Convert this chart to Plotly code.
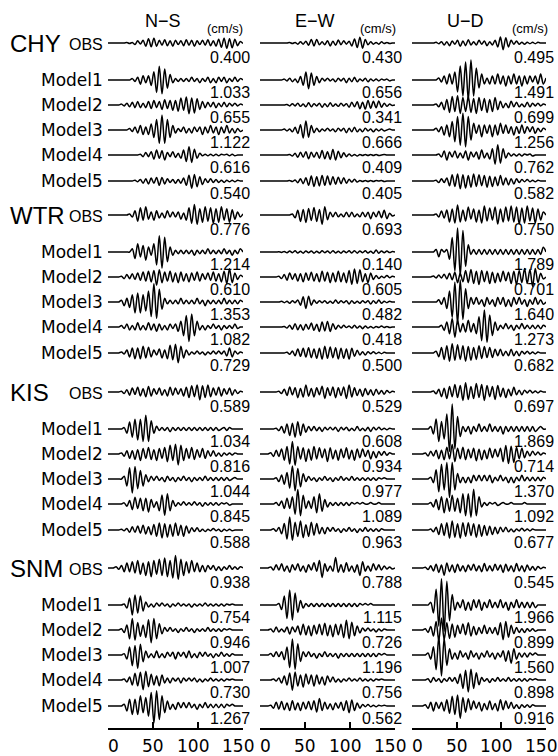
import plotly.graph_objects as go

# ---------------- data ----------------
STATIONS = ["CHY", "WTR", "KIS", "SNM"]
COMPONENTS = ["N\u2212S", "E\u2212W", "U\u2212D"]
ROWS = ["OBS", "Model1", "Model2", "Model3", "Model4", "Model5"]
TIME_STEP = 3.0          # seconds between samples
TIME_TICKS = [0, 50, 100, 150]
UNIT = "(cm/s)"

# peak velocity (cm/s) per trace: rows OBS, Model1..Model5
PEAK_CHY_NS = [0.400, 1.033, 0.655, 1.122, 0.616, 0.540]
PEAK_CHY_EW = [0.430, 0.656, 0.341, 0.666, 0.409, 0.405]
PEAK_CHY_UD = [0.495, 1.491, 0.699, 1.256, 0.762, 0.582]
PEAK_WTR_NS = [0.776, 1.214, 0.610, 1.353, 1.082, 0.729]
PEAK_WTR_EW = [0.693, 0.140, 0.605, 0.482, 0.418, 0.500]
PEAK_WTR_UD = [0.750, 1.789, 0.701, 1.640, 1.273, 0.682]
PEAK_KIS_NS = [0.589, 1.034, 0.816, 1.044, 0.845, 0.588]
PEAK_KIS_EW = [0.529, 0.608, 0.934, 0.977, 1.089, 0.963]
PEAK_KIS_UD = [0.697, 1.869, 0.714, 1.370, 1.092, 0.677]
PEAK_SNM_NS = [0.938, 0.754, 0.946, 1.007, 0.730, 1.267]
PEAK_SNM_EW = [0.788, 1.115, 0.726, 1.196, 0.756, 0.562]
PEAK_SNM_UD = [0.545, 1.966, 0.899, 1.560, 0.898, 0.916]

# waveform samples (every 3 s from 0 to 150 s),
# in tenths of each trace's peak value
WAVE_CHY_NS = [
    [0,0,0,0,0,0,0,1,-1,1, -3,4,-2,5,-6,8,-7,9,-6,5, -4,6,-5,4,-6,5,-3,4,-5,6, -4,5,-6,4,-3,5,-4,6,-5,4, -6,7,-8,9,-10,8,-9,7,-5,3,-1],
    [0,0,0,0,0,0,0,0,0,1, -1,2,-3,3,-2,3,-4,6,-9,10, -10,8,-6,4,-2,1,-1,1,-1,1, -1,2,-1,1,-2,1,-1,2,-2,1, -2,2,-1,2,-2,1,-1,2,-1,1,0],
    [0,0,0,0,0,1,-1,2,-2,3, -3,4,-3,2,-3,4,-4,5,-3,4, -5,6,-4,5,-6,5,-7,8,-6,9, -10,8,-9,7,-5,4,-3,3,-2,3, -3,2,-2,3,-2,2,-1,2,-1,1,0],
    [0,0,0,0,0,0,0,0,1,-1, 2,-2,3,-3,2,-3,4,-5,7,-9, 10,-9,7,-5,3,-2,1,-1,2,-2, 1,-2,2,-1,2,-3,2,-2,3,-2, 2,-3,2,-2,3,-2,1,-2,1,-1,0],
    [0,0,0,0,0,0,0,0,0,0, 0,0,1,-2,3,-2,4,-5,6,-4, 5,-6,3,-2,4,-3,2,-4,6,-8, 10,-9,7,-4,2,-1,1,-1,1,-1, 1,-1,1,0,1,-1,1,-1,0,0,0],
    [0,0,0,0,0,0,0,0,0,0, 1,-1,2,-3,3,-4,4,-3,5,-6, 5,-4,3,-2,2,-3,2,-3,4,-6, 8,-10,9,-8,6,-5,3,-2,3,-2, 2,-2,1,-2,1,-1,1,-1,1,0,0],
]
WAVE_CHY_EW = [
    [0,0,0,0,0,0,0,0,0,0, 0,1,-1,1,-2,2,-2,3,-4,6, -5,6,-3,2,-3,4,-5,3,-4,5, -3,4,-2,3,-5,7,-8,10,-9,6, -3,2,-2,1,-2,2,-1,1,-1,0,0],
    [0,0,0,0,0,0,0,0,0,1, -1,2,-2,1,-3,4,-6,9,-10,8, -6,4,-3,2,-1,2,-1,1,-2,2, -1,2,-3,2,-2,3,-2,1,-1,2, -2,1,-1,1,-1,1,0,1,-1,0,0],
    [0,0,0,0,0,0,0,0,0,0, 1,-2,3,-2,4,-3,2,-4,5,-4, 3,-2,4,-5,3,-4,5,-3,2,-3, 4,-2,3,-5,6,-4,7,-8,6,-9, 10,-7,8,-6,9,-5,4,-3,2,-1,0],
    [0,0,0,0,0,0,0,0,0,1, -1,1,-2,3,-4,6,-9,10,-8,5, -3,2,-2,1,-1,2,-1,1,-2,2, -1,2,-3,2,-2,3,-2,1,-2,2, -1,1,-2,1,-1,1,-1,0,1,0,0],
    [0,0,0,0,0,0,0,0,0,0, 0,1,-2,3,-4,5,-4,6,-7,5, -4,5,-6,8,-7,6,-8,10,-9,7, -5,4,-3,2,-2,1,-2,1,-1,1, -1,1,-1,1,-1,0,1,0,0,0,0],
    [0,0,0,0,0,0,0,0,0,0, 0,1,-1,2,-3,4,-5,6,-8,9, -10,8,-9,10,-8,9,-7,8,-6,7, -5,6,-4,3,-2,3,-2,1,-1,1, -1,1,-1,1,0,1,-1,0,0,0,0],
]
WAVE_CHY_UD = [
    [0,0,0,0,0,0,0,0,0,1, -1,2,-3,2,-4,3,-2,4,-5,3, -4,5,-3,2,-3,4,-2,3,-4,2, -3,4,-6,9,-10,8,-6,4,-2,3, -2,1,-2,1,-1,1,-1,1,0,0,0],
    [0,0,0,0,0,0,0,0,0,0, 1,-1,2,-2,3,-2,4,-6,7,-8, 9,-10,10,-8,6,-4,3,-2,1,-2, 2,-2,3,-2,2,-3,2,-2,3,-2, 2,-3,2,-2,2,-1,2,-2,3,-2,1],
    [0,0,0,0,0,0,0,0,0,1, -2,3,-5,6,-8,9,-7,10,-9,8, -7,9,-8,7,-9,8,-6,7,-8,6, -7,8,-5,4,-3,2,-3,4,-2,3, -2,1,-2,3,-2,2,-1,2,-1,1,0],
    [0,0,0,0,0,0,0,0,0,1, -1,2,-3,3,-4,5,-7,8,-9,10, -10,8,-6,4,-2,3,-4,3,-2,3, -4,3,-3,4,-2,3,-2,2,-3,2, -2,3,-2,2,-1,2,-2,1,-1,1,0],
    [0,0,0,0,0,0,0,0,0,0, 1,-2,4,-5,3,-2,4,-3,2,-3, 4,-5,3,-2,3,-4,5,-3,2,-4, 6,-9,10,-8,6,-3,2,-1,1,-1, 1,-1,1,0,1,-1,0,0,0,0,0],
    [0,0,0,0,0,0,0,0,0,1, -2,3,-2,4,-6,8,-7,9,-10,8, -9,7,-8,9,-7,8,-6,7,-8,6, -7,5,-6,7,-5,4,-5,3,-4,3, -2,2,-1,2,-1,1,-1,1,0,0,0],
]
WAVE_WTR_NS = [
    [0,0,0,0,0,0,0,0,1,-2, 4,-6,7,-5,8,-4,3,-5,4,-3, 2,-3,4,-2,3,-2,3,-4,2,-5, 7,-8,10,-9,6,-7,8,-6,7,-8, 6,-7,8,-5,6,-7,5,-4,3,-2,1],
    [0,0,0,0,0,0,0,0,0,2, -4,5,-3,4,-5,3,-2,5,-8,10, -10,9,-6,3,-2,1,-1,1,-1,1, -1,1,-2,1,-1,1,-1,2,-1,1, -1,1,-1,2,-1,1,-2,1,-1,2,0],
    [0,0,0,0,0,1,-2,3,-2,4, -3,5,-4,6,-5,7,-6,8,-10,9, -7,6,-5,7,-6,5,-7,6,-5,4, -6,5,-4,6,-5,4,-3,5,-4,6, -5,4,-6,7,-8,10,-7,5,-3,2,0],
    [0,0,0,0,0,1,-2,2,-3,4, -6,5,-6,4,-5,6,-8,10,-9,7, -4,2,-1,1,-1,1,-1,2,-1,1, -1,1,-1,2,-1,1,-2,1,-1,1, -1,1,-1,2,-1,1,-1,1,-1,1,0],
    [0,0,0,0,0,1,-1,2,-2,1, -2,3,-2,1,-2,3,-2,2,-3,2, -2,1,-2,2,-1,2,-3,4,-6,8, -10,9,-6,4,-2,1,-2,1,-1,2, -1,1,-2,1,-1,1,-1,2,-1,0,0],
    [0,0,0,0,0,1,-1,3,-4,5, -6,5,-6,7,-5,6,-4,3,-2,4, -5,3,-6,8,-7,9,-10,7,-5,3, -2,1,-1,2,-1,1,-2,1,-1,2, -1,2,-1,2,-3,5,-4,2,-1,1,0],
]
WAVE_WTR_EW = [
    [0,0,0,0,0,0,0,0,0,0, 0,0,1,-3,5,-7,6,-8,7,-6, 8,-7,6,-10,9,-5,3,-2,3,-2, 1,-2,3,-2,3,-2,1,-2,3,-2, 3,-4,3,-2,4,-3,5,-4,2,-1,0],
    [0,0,0,0,0,0,0,1,-2,3, -4,5,-4,6,-5,4,-6,5,-4,5, -6,4,-5,6,-4,5,-6,7,-5,4, -6,5,-4,6,-5,7,-6,5,-4,6, -5,4,-7,10,-6,5,-4,5,-3,2,0],
    [0,0,0,0,0,0,0,1,-2,3, -4,5,-3,4,-5,4,-6,5,-4,6, -5,4,-6,7,-5,6,-7,5,-6,7, -6,5,-7,8,-9,10,-8,9,-6,4, -7,5,-3,2,-2,1,-1,2,-1,1,0],
    [0,0,0,0,0,0,0,0,1,-1, 1,-2,2,-1,3,-5,8,-10,9,-5, 3,-2,2,-1,2,-2,1,-2,3,-2, 2,-1,2,-3,2,-2,1,-2,2,-1, 2,-3,2,-2,3,-2,1,-1,1,0,0],
    [0,0,0,0,0,0,0,0,0,1, -2,3,-4,6,-5,4,-6,5,-4,7, -6,5,-8,9,-7,10,-8,6,-4,3, -2,3,-1,2,-2,3,-2,2,-3,2, -2,1,-2,1,-1,2,-1,1,-1,0,0],
    [0,0,0,0,0,0,0,0,0,0, 1,-2,3,-4,6,-5,7,-6,8,-7, 6,-8,7,-9,10,-8,9,-7,8,-9, 7,-8,6,-9,7,-5,4,-3,2,-3, 2,-1,2,-1,1,-1,1,0,0,0,0],
]
WAVE_WTR_UD = [
    [0,0,0,0,0,0,0,0,0,1, -2,4,-3,5,-7,6,-8,10,-7,5, -6,8,-4,6,-7,5,-8,9,-6,7, -5,8,-9,6,-7,8,-6,9,-7,8, -9,7,-8,9,-6,7,-8,6,-5,3,0],
    [0,0,0,0,0,0,0,0,0,1, -2,1,0,1,-3,6,-8,10,-10,9, -6,3,-1,1,-1,1,-1,1,-1,1, -1,1,-1,1,-1,1,-1,1,-1,1, -1,1,-1,1,-1,1,-1,1,-1,2,0],
    [0,0,0,0,0,0,0,0,1,-1, 2,-1,3,-2,4,-3,5,-6,4,-5, 7,-6,8,-7,6,-8,7,-5,6,-7, 5,-6,4,-5,6,-4,5,-7,6,-8, 7,-6,9,-7,8,-10,9,-6,4,-2,0],
    [0,0,0,0,0,0,0,0,0,0, 1,-1,2,-3,5,-7,9,-10,10,-8, 6,-3,2,-1,2,-1,1,-2,2,-1, 1,-2,2,-1,2,-2,1,-2,2,-1, 2,-1,1,-2,1,-1,2,-1,1,-1,0],
    [0,0,0,0,0,0,0,0,0,0, 0,1,-2,3,-4,5,-6,4,-3,2, -3,4,-3,2,-4,6,-8,10,-9,7, -5,3,-2,1,-1,2,-1,1,-2,1, -1,2,-1,1,-1,1,-1,1,-1,1,0],
    [0,0,0,0,0,0,0,0,0,2, -4,6,-7,8,-9,10,-8,9,-7,8, -9,7,-8,6,-7,8,-6,7,-5,6, -5,4,-3,4,-3,2,-3,4,-3,2, -3,2,-1,2,-1,1,-1,1,0,0,0],
]
WAVE_KIS_NS = [
    [0,0,0,0,0,1,-2,3,-4,5, -3,6,-5,4,-6,7,-5,4,-3,5, -4,3,-5,6,-4,5,-3,4,-5,6, -7,8,-6,9,-10,8,-7,9,-6,5, -4,6,-5,4,-3,5,-4,3,-2,1,0],
    [0,0,0,0,0,0,1,-3,5,-6, 7,-8,7,-9,10,-9,6,-3,2,-1, 1,-1,1,-2,1,-1,1,-1,1,-1, 1,-1,1,-1,1,-1,1,-1,1,-1, 1,-1,0,1,-1,1,0,0,0,0,0],
    [0,0,0,0,0,1,-2,3,-4,3, -5,4,-6,5,-4,6,-5,4,-6,5, -4,6,-7,8,-6,9,-10,8,-6,5, -4,6,-5,4,-3,5,-4,3,-2,3, -2,1,-2,1,-1,1,-1,1,0,0,0],
    [0,0,0,0,0,0,2,-5,8,-10, 9,-7,6,-5,3,-2,2,-1,2,-1, 1,-2,2,-1,1,-2,1,-1,2,-1, 1,-2,1,-1,1,-1,2,-1,1,-1, 1,-1,1,-1,1,-1,0,1,0,0,0],
    [0,0,0,0,0,0,1,-2,3,-5, 6,-4,5,-6,5,-7,4,-3,2,-6, 8,-10,9,-6,3,-2,1,-1,2,-1, 1,-1,2,-1,1,-2,1,-1,1,-1, 1,-1,1,0,1,-1,0,0,0,0,0],
    [0,0,0,0,0,1,-1,2,-3,4, -3,5,-4,6,-5,4,-6,7,-8,9, -10,8,-9,7,-8,9,-7,6,-8,5, -4,3,-2,3,-2,1,-2,1,-1,2, -1,1,-2,1,-1,1,-1,0,0,0,0],
]
WAVE_KIS_EW = [
    [0,0,0,0,0,0,0,1,-2,4, -5,7,-4,6,-8,5,-7,10,-6,5, -7,6,-4,8,-9,6,-5,7,-8,6, -5,7,-9,10,-7,6,-5,4,-6,5, -4,3,-5,4,-3,2,-3,2,-1,1,0],
    [0,0,0,0,0,0,1,-2,3,-5, 6,-8,7,-10,9,-8,6,-4,3,-2, 3,-2,2,-3,2,-1,2,-1,2,-3, 2,-1,2,-2,1,-2,3,-2,1,-2, 2,-3,2,-1,2,-1,1,-1,1,0,0],
    [0,0,0,0,1,-2,3,-2,4,-5, 6,-8,10,-9,6,-4,5,-6,4,-5, 6,-4,5,-3,4,-6,5,-4,3,-5, 4,-3,5,-4,3,-5,4,-3,4,-2, 3,-4,2,-3,2,-1,2,-1,1,0,0],
    [0,0,0,0,0,0,1,-2,3,-4, 5,-7,10,-9,8,-6,4,-2,2,-1, 1,-2,1,-1,2,-1,1,-2,1,-1, 2,-1,1,-1,2,-1,1,-1,1,-1, 1,-1,1,-1,1,0,1,0,0,0,0],
    [0,0,0,0,0,0,1,-1,2,-3, 4,-3,5,-7,10,-8,6,-3,2,-3, 5,-6,7,-5,3,-2,1,-1,1,-1, 1,-1,1,-1,1,0,1,0,1,0, 0,1,0,0,1,0,0,0,0,0,0],
    [0,0,0,0,0,1,-1,2,-3,5, -7,10,-8,6,-5,7,-6,4,-5,6, -4,5,-3,2,-3,2,-1,2,-1,1, -2,1,-1,2,-1,1,-2,1,-1,2, -1,1,-1,1,-1,1,0,0,0,0,0],
]
WAVE_KIS_UD = [
    [0,0,0,0,0,0,0,0,1,-2, 3,-5,4,-7,6,-5,8,-6,7,-9, 10,-8,6,-7,9,-6,8,-9,7,-5, 6,-8,7,-5,4,-6,3,-4,5,-3, 2,-3,2,-1,2,-1,1,-1,1,0,0],
    [0,0,0,0,0,0,0,1,-2,4, -5,3,-4,6,-9,10,-8,5,-3,1, -1,1,-2,1,-1,2,-1,1,-1,2, -1,1,-1,1,-2,1,-1,1,-1,1, -1,1,-1,1,-1,1,-1,0,1,0,0],
    [0,0,0,0,0,1,-2,3,-2,4, -5,4,-6,7,-5,10,-8,6,-5,7, -6,5,-4,6,-7,5,-6,4,-5,6, -4,5,-3,6,-8,9,-10,8,-9,7, -5,6,-4,3,-2,3,-1,2,-1,1,0],
    [0,0,0,0,0,0,0,1,-2,5, -7,8,-6,9,-10,9,-6,3,-2,1, -2,1,-2,2,-1,2,-1,2,-1,2, -2,1,-1,2,-1,1,-2,1,-2,1, -1,2,-1,1,-1,1,-1,1,-1,1,0],
    [0,0,0,0,0,0,0,1,-2,3, -4,5,-6,4,-5,6,-5,4,-6,7, -8,7,-9,10,-8,5,-2,1,-1,1, 0,1,-1,0,1,0,0,1,0,0, 0,0,1,0,0,0,0,0,0,0,0],
    [0,0,0,0,0,0,0,1,-2,3, -5,7,-6,8,-9,10,-8,7,-9,8, -7,8,-6,7,-8,6,-7,5,-6,4, -5,3,-4,3,-2,3,-2,1,-2,1, -1,2,-1,1,-1,1,0,0,0,0,0],
]
WAVE_SNM_NS = [
    [0,0,0,1,-1,2,-3,4,-3,5, -4,6,-5,4,-6,5,-7,6,-5,7, -6,8,-7,6,-8,10,-9,7,-6,5, -4,6,-3,4,-3,2,-3,2,-1,2, -2,1,-2,1,-1,2,-1,1,-1,1,0],
    [0,0,0,0,0,0,1,-3,7,-10, 10,-8,9,-6,3,-2,1,-2,2,-1, 2,-1,1,-2,1,-1,2,-1,1,-1, 1,-2,1,-1,1,-1,2,-1,1,-1, 1,-1,1,-1,1,0,1,0,0,0,0],
    [0,0,0,0,0,1,-2,4,-7,9, -8,6,-5,4,-6,8,-10,9,-7,5, -3,2,-1,2,-1,1,-2,1,-1,2, -1,1,-2,1,-1,1,-1,2,-1,1, -1,1,-1,1,0,1,0,0,0,0,0],
    [0,0,0,0,0,0,1,-3,6,-8, 7,-10,8,-5,3,-2,1,-2,3,-2, 1,-2,2,-1,2,-3,2,-1,2,-2, 3,-2,1,-2,2,-1,2,-1,1,-2, 1,-1,2,-1,1,-1,1,0,0,0,0],
    [0,0,0,0,0,0,1,-2,3,-5, 7,-6,8,-10,9,-7,6,-5,4,-6, 5,-3,2,-3,2,-1,2,-3,2,-1, 2,-1,2,-2,1,-2,1,-1,2,-1, 1,-1,1,-1,1,0,1,0,0,0,0],
    [0,0,0,0,0,0,1,-3,4,-5, 4,-5,6,-4,5,-6,8,-10,9,-8, 6,-4,3,-2,1,-2,2,-1,2,-1, 2,-1,1,-2,1,-1,2,-1,1,-1, 1,-1,1,-1,1,0,1,0,0,0,0],
]
WAVE_SNM_EW = [
    [0,0,0,0,1,-2,3,-2,4,-3, 2,-4,3,-2,4,-3,2,-4,3,-2, 5,-3,7,-9,4,-3,2,-3,10,-4, 3,-4,5,-3,2,-4,3,-7,6,-3, 2,-3,4,-2,3,-2,2,-1,1,-1,0],
    [0,0,0,0,0,0,0,1,-3,6, -9,10,-10,8,-5,3,-2,1,-1,1, -1,1,-1,1,-1,1,-1,1,-1,1, -1,1,-1,1,-1,1,-1,1,0,1, 0,1,0,0,0,0,0,0,0,0,0],
    [0,0,0,0,1,-2,3,-2,1,-2, 3,-4,3,-2,4,-5,6,-5,4,-6, 5,-4,6,-5,7,-6,5,-7,6,-5, 6,-8,10,-9,8,-6,4,-3,2,-1, 2,-1,1,-2,1,-1,1,0,0,0,0],
    [0,0,0,0,1,-1,2,-1,2,-3, 5,-8,10,-9,7,-4,2,-1,2,-1, 1,-2,1,-1,2,-1,1,-1,1,-2, 1,-1,1,-1,1,-1,1,-1,1,-1, 1,-1,1,-1,1,0,1,0,0,0,0],
    [0,0,0,0,0,1,-1,2,-3,4, -5,7,-10,8,-6,5,-7,6,-4,5, -6,5,-4,3,-5,4,-2,3,-2,1, -2,1,-1,2,-1,1,-1,2,-1,1, -1,1,-1,1,0,1,0,0,0,0,0],
    [0,0,0,0,1,-3,5,-4,6,-5, 4,-6,7,-5,4,-6,5,-4,6,-5, 7,-8,10,-6,5,-4,3,-5,4,-3, 5,-6,7,-9,8,-6,4,-3,2,-1, 2,-1,1,-1,1,0,1,0,0,0,0],
]
WAVE_SNM_UD = [
    [0,0,0,0,0,1,-2,3,-4,5, -6,4,-10,7,-5,4,-6,5,-4,3, -5,4,-3,5,-4,3,-5,6,-4,3, -4,5,-3,4,-6,5,-4,3,-5,6, -4,3,-5,4,-3,2,-3,2,-1,1,0],
    [0,0,0,0,0,0,0,1,-3,6, -8,10,-10,9,-6,4,-2,1,-1,2, -2,1,-2,2,-1,2,-2,1,-1,2, -1,1,-1,2,-1,1,-2,1,-1,2, -1,1,-1,1,-1,1,-1,0,0,0,0],
    [0,0,0,0,0,1,-2,3,-5,7, -9,10,-8,6,-7,5,-6,4,-3,5, -4,6,-5,3,-4,2,-3,4,-3,2, -3,2,-4,6,-8,7,-6,4,-3,2, -2,1,-2,1,-1,1,-1,0,0,0,0],
    [0,0,0,0,0,0,1,-2,4,-7, 9,-10,8,-5,3,-2,1,-2,2,-1, 1,-2,2,-1,1,-2,1,-1,2,-1, 1,-2,1,-1,2,-3,2,-4,3,-2, 1,-1,1,-1,1,0,1,0,0,0,0],
    [0,0,0,0,0,0,1,-2,2,-1, 1,-2,1,-1,2,-1,2,-3,5,-7, 8,-10,9,-7,6,-4,2,-1,1,-2, 1,-1,2,-1,1,-1,2,-1,1,-1, 1,-1,1,-1,1,0,1,0,0,0,0],
    [0,0,0,0,0,1,-2,3,-4,3, -2,3,-4,5,-6,8,-7,9,-10,7, -5,6,-3,4,-2,3,-4,2,-3,4, -3,2,-4,5,-3,4,-2,3,-2,1, -2,1,-1,1,-1,1,0,0,0,0,0],
]

WAVES = {
    "CHY": [WAVE_CHY_NS, WAVE_CHY_EW, WAVE_CHY_UD],
    "WTR": [WAVE_WTR_NS, WAVE_WTR_EW, WAVE_WTR_UD],
    "KIS": [WAVE_KIS_NS, WAVE_KIS_EW, WAVE_KIS_UD],
    "SNM": [WAVE_SNM_NS, WAVE_SNM_EW, WAVE_SNM_UD],
}
PEAKS = {
    "CHY": [PEAK_CHY_NS, PEAK_CHY_EW, PEAK_CHY_UD],
    "WTR": [PEAK_WTR_NS, PEAK_WTR_EW, PEAK_WTR_UD],
    "KIS": [PEAK_KIS_NS, PEAK_KIS_EW, PEAK_KIS_UD],
    "SNM": [PEAK_SNM_NS, PEAK_SNM_EW, PEAK_SNM_UD],
}

# ---------------- layout (pixels) ----------------
W, H = 558, 756
AXIS_Y = 728                       # pixel row of the time axis
PX_PER_CMS = 13.4                  # common amplitude scale
OBS_BASE = [43, 215, 392, 568]     # baseline of each station's OBS trace
ROW_OFF = [0, 37, 62, 87, 112, 138]
COL_X0 = [108, 260, 412]           # pixel of t=0 for each column
COL_X1 = [243, 395, 546]           # pixel of t=150
VAL_RIGHT = [251, 403, 555]
FONT = "Liberation Sans, Arial, Helvetica, sans-serif"
WIDE = "DejaVu Sans, Verdana, sans-serif"

fig = go.Figure()
axnames = ["x", "x2", "x3"]

for si, st in enumerate(STATIONS):
    for ci in range(3):
        for ri in range(6):
            codes = WAVES[st][ci][ri]
            peak = PEAKS[st][ci][ri]
            t = [i * TIME_STEP for i in range(len(codes))]
            base = OBS_BASE[si] + ROW_OFF[ri]
            y = [base - peak * c / 10.0 * PX_PER_CMS for c in codes]
            fig.add_trace(go.Scatter(
                x=t, y=y, mode="lines", xaxis=axnames[ci], yaxis="y",
                line=dict(color="black", width=1.5, shape="spline", smoothing=0.9),
                hoverinfo="skip", showlegend=False))

ann = []
def px(x):
    return x / W

def text(x, y, s, size, anchor="center", family=FONT, xref="paper", xshift=0, yref="y"):
    ann.append(dict(x=x, y=y, xref=xref, yref=yref, text=s, xanchor=anchor,
                    yanchor="middle", showarrow=False, borderpad=0, xshift=xshift,
                    font=dict(family=family, size=size, color="black")))

for si, st in enumerate(STATIONS):
    base = OBS_BASE[si]
    text(px(9), base, st, 24, "left")
    for ri, rn in enumerate(ROWS):
        yb = base + ROW_OFF[ri]
        if ri == 0:
            text(px(104), yb + 1, rn, 16, "right")
        else:
            text(px(104), yb, rn, 17, "right", family=WIDE)
        for ci in range(3):
            val = PEAKS[st][ci][ri]
            text(px(VAL_RIGHT[ci]), yb + (14 if ri == 0 else 12), f"{val:.3f}", 16, "right")

HEAD_X = [163, 315, 465]
UNIT_X = [225, 378, 530]
TICKLABEL_Y = (AXIS_Y - 746.5) / AXIS_Y   # paper units (below the plot area)
for ci in range(3):
    text(px(HEAD_X[ci]), 21, COMPONENTS[ci], 18)
    text(px(UNIT_X[ci]), 28, UNIT, 13)
    # time tick labels (right-aligned just past each tick, as in the original)
    for tv in TIME_TICKS:
        text(tv, TICKLABEL_Y, str(tv), 17, "right", family=WIDE,
             xref=axnames[ci], xshift=12, yref="paper")

xaxis_common = dict(range=[0, 150], tickvals=TIME_TICKS, showticklabels=False,
                    ticks="inside", ticklen=6, tickwidth=1.5, tickcolor="black",
                    showline=True, linewidth=1.5, linecolor="black", showgrid=False,
                    zeroline=False, anchor="y", fixedrange=True)

layout_axes = {}
for ci, name in enumerate(["xaxis", "xaxis2", "xaxis3"]):
    d = dict(xaxis_common)
    d["domain"] = [COL_X0[ci] / W, COL_X1[ci] / W]
    layout_axes[name] = d

fig.update_layout(
    width=W, height=H,
    margin=dict(l=0, r=0, t=0, b=H - AXIS_Y),
    paper_bgcolor="white", plot_bgcolor="white",
    yaxis=dict(range=[AXIS_Y, 0], domain=[0, 1], visible=False, fixedrange=True),
    annotations=ann,
    showlegend=False,
    **layout_axes,
)

fig.write_html("out.html", config={"displayModeBar": False})
